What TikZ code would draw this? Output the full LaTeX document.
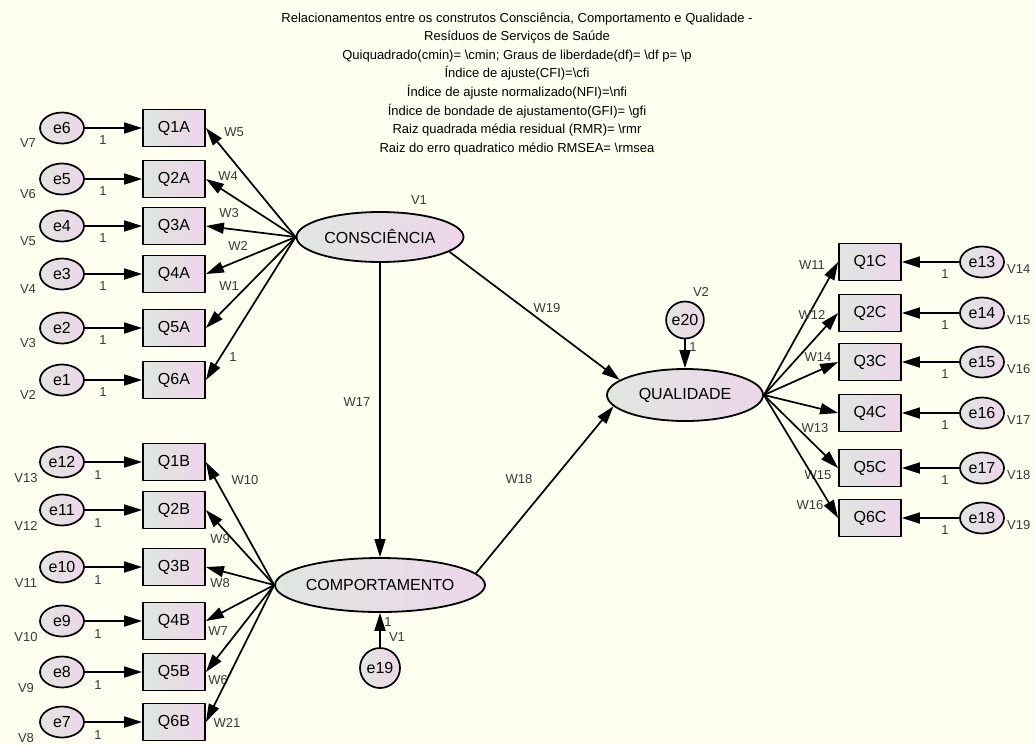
\documentclass[tikz,border=0pt]{standalone}
\usepackage{fontspec}
\setmainfont{Liberation Sans}
\usetikzlibrary{arrows.meta,shapes.geometric}

\definecolor{bgcream}{HTML}{FDFEF0}
\definecolor{fillgrey}{HTML}{E0E6E0}
\definecolor{fillpink}{HTML}{EDD5EA}
\definecolor{tagtext}{HTML}{3A3A3A}

\tikzset{
  obsbox/.style={draw, line width=1.8pt, minimum width=62pt, minimum height=37pt, inner sep=0pt,
    left color=fillgrey, right color=fillpink, font=\fontsize{16}{16}\selectfont},
  errnode/.style={ellipse, draw, line width=1.7pt, minimum width=44pt, minimum height=31pt, inner sep=0pt,
    left color=fillgrey, right color=fillpink, font=\fontsize{16}{16}\selectfont},
  latent/.style={ellipse, draw, line width=1.8pt, inner sep=0pt,
    left color=fillgrey, right color=fillpink, font=\fontsize{16}{16}\selectfont},
  regpath/.style={line width=1.7pt, -{Triangle[length=18pt,width=11pt]}},
  tag/.style={font=\fontsize{13}{13}\selectfont, text=tagtext, inner sep=0pt},
}

\begin{document}
\begin{tikzpicture}[x=1pt, y=-1pt, line join=round]
  \fill[bgcream] (0,0) rectangle (1035,745);
  \useasboundingbox (0,0) rectangle (1035,745);

  \node[align=center, font=\fontsize{13}{18.6}\selectfont, anchor=north] (title) at (517,9)
    {Relacionamentos entre os construtos Consciência, Comportamento e Qualidade -\\
     Resíduos de Serviços de Saúde\\
     Quiquadrado(cmin)= \textbackslash cmin; Graus de liberdade(df)= \textbackslash df p= \textbackslash p\\
     Índice de ajuste(CFI)=\textbackslash cfi\\
     Índice de ajuste normalizado(NFI)=\textbackslash nfi\\
     Índice de bondade de ajustamento(GFI)= \textbackslash gfi\\
     Raiz quadrada média residual (RMR)= \textbackslash rmr\\
     Raiz do erro quadratico médio RMSEA= \textbackslash rmsea};

  % latent constructs
  \node[latent, minimum width=167pt, minimum height=50pt] (cons) at (380,237) {CONSCIÊNCIA};
  \node[latent, minimum width=171pt, minimum height=54pt] (comp) at (380,585) {COMPORTAMENTO};
  \node[latent, minimum width=156pt, minimum height=52pt] (qual) at (685,395) {QUALIDADE};
  \node[errnode, minimum width=40pt, minimum height=40pt] (e19) at (380,668) {e19};
  \node[errnode, minimum width=37pt, minimum height=37pt] (e20) at (685,320) {e20};
  \node[tag] at (419,200) {V1};
  \node[tag] at (701,292) {V2};

  % indicators of CONSCIÊNCIA
  \foreach \e/\q/\y/\v/\w/\wx/\wy in {6/1/128/7/W5/234/132, 5/2/179/6/W4/228/176, 4/3/226/5/W3/229/213,
      3/4/274/4/W2/238/246, 2/5/328/3/W1/229/286, 1/6/380/2/1/233/357} {
    \node[errnode] (e\e) at (62,\y) {e\e};
    \node[obsbox] (Q\q A) at (174,\y) {Q\q A};
    \draw[regpath] (e\e) -- (Q\q A);
    \node[tag] at (103,\y+12) {1};
    \node[tag] at (28,\y+15) {V\v};
    \draw[regpath] (cons.west) -- (Q\q A.east);
    \node[tag] at (\wx,\wy) {\w};
  }

  % indicators of COMPORTAMENTO
  \foreach \e/\q/\y/\v/\w/\wx/\wy in {12/1/462/13/W10/245/480, 11/2/510/12/W9/220/539, 10/3/567/11/W8/220/583,
      9/4/621/10/W7/218/631, 8/5/672/9/W6/218/680, 7/6/722/8/W21/227/723} {
    \node[errnode] (e\e) at (62,\y) {e\e};
    \node[obsbox] (Q\q B) at (174,\y) {Q\q B};
    \draw[regpath] (e\e) -- (Q\q B);
    \node[tag] at (98,\y+13) {1};
    \node[tag] at (26,\y+16) {V\v};
    \draw[regpath] (comp.west) -- (Q\q B.east);
    \node[tag] at (\wx,\wy) {\w};
  }

  % indicators of QUALIDADE
  \foreach \e/\q/\y/\v/\w/\wx/\wy in {13/1/262/14/W11/812/265, 14/2/313/15/W12/812/315, 15/3/362/16/W14/818/357,
      16/4/413/17/W13/815/428, 17/5/468/18/W15/818/475, 18/6/518/19/W16/810/505} {
    \node[errnode] (e\e) at (982,\y) {e\e};
    \node[obsbox] (Q\q C) at (870,\y) {Q\q C};
    \draw[regpath] (e\e) -- (Q\q C);
    \node[tag] at (945,\y+12) {1};
    \node[tag, anchor=west] at (1007,\y+7) {V\v};
    \draw[regpath] (qual.east) -- (Q\q C.west);
    \node[tag] at (\wx,\wy) {\w};
  }

  % structural paths
  \draw[regpath] (cons) -- (comp);
  \node[tag] at (357,402) {W17};
  \draw[regpath] (cons.-12) -- (qual.167);
  \node[tag] at (547,308) {W19};
  \draw[regpath] (comp.7) -- (qual.-171);
  \node[tag] at (519,479) {W18};
  \draw[regpath] (e19) -- (comp);
  \node[tag] at (388,622) {1};
  \node[tag] at (397,637) {V1};
  \draw[regpath] (e20) -- (qual);
  \node[tag] at (693,347) {1};
\end{tikzpicture}
\end{document}
